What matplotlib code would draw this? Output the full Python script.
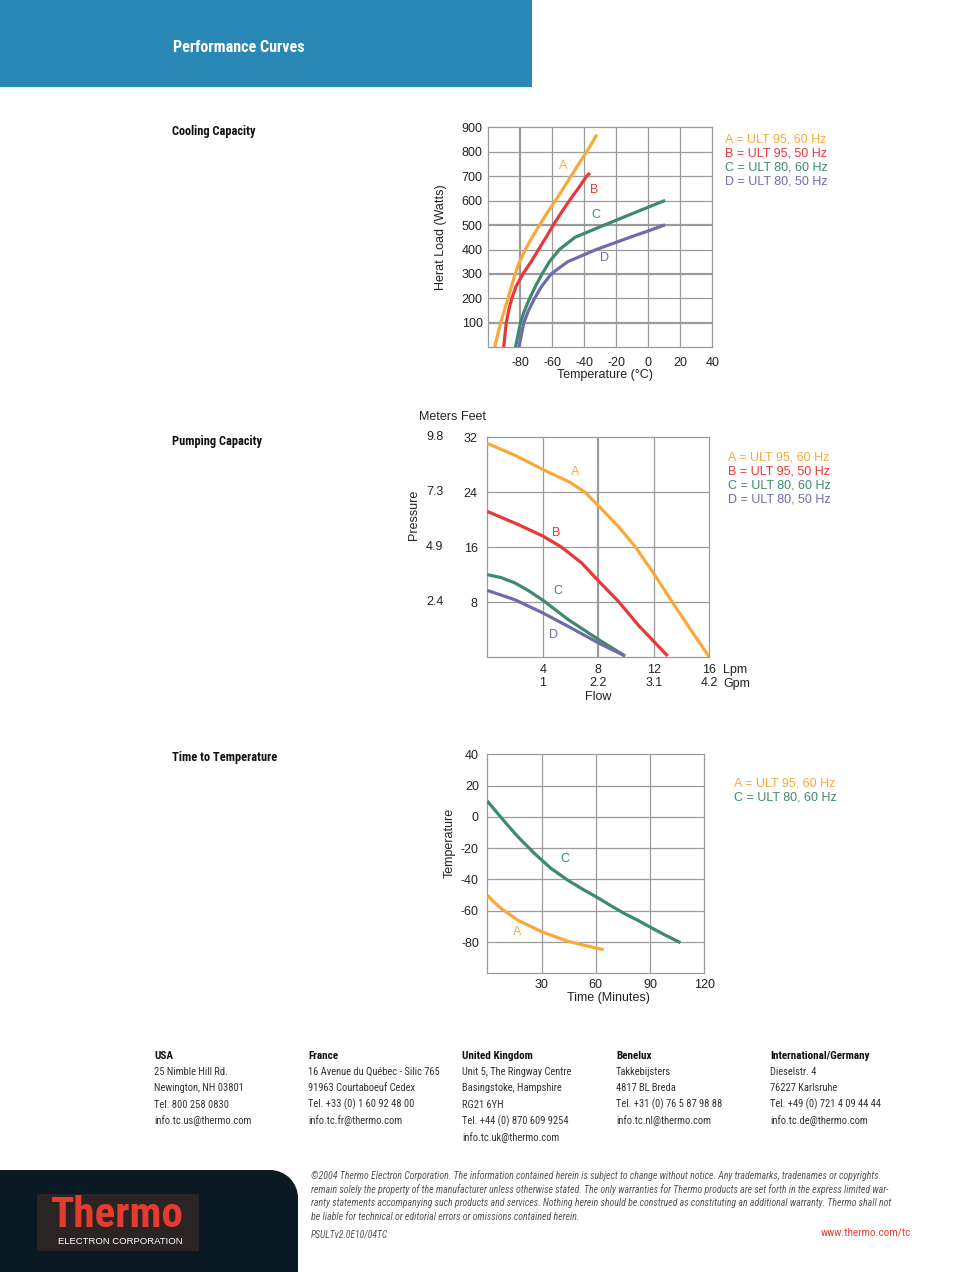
import matplotlib
matplotlib.use("Agg")
import matplotlib.pyplot as plt
from matplotlib import font_manager
from matplotlib.patches import Rectangle, Circle

W, H = 954, 1272

# ---------------- data ----------------
# Cooling capacity: temperature (deg C) vs heat load (W)
cool_a_load = [0, 100, 200, 300, 350, 400, 450, 500, 550, 600, 650, 700, 750, 800, 870]
cool_a_temp = [-96.1, -92.3, -87.7, -83.2, -80.5, -76.9, -72.6, -68.0, -63.2, -58.0, -53.1,
               -48.3, -43.5, -38.5, -32.1]
cool_b_load = [0, 100, 150, 200, 250, 300, 350, 400, 450, 500, 550, 600, 650, 700, 713]
cool_b_temp = [-90.4, -88.8, -87.3, -85.3, -82.6, -78.4, -73.2, -68.6, -63.9, -59.4, -54.5,
               -49.3, -43.8, -38.5, -36.5]
cool_c_load = [0, 100, 150, 200, 250, 300, 350, 400, 450, 500, 550, 601]
cool_c_temp = [-83.0, -79.9, -77.4, -74.2, -70.5, -66.4, -61.8, -55.6, -45.8, -27.5, -8.8, 10.5]
cool_d_load = [0, 100, 150, 200, 250, 300, 325, 350, 375, 400, 425, 450, 475, 501]
cool_d_temp = [-80.9, -77.8, -74.9, -71.1, -66.6, -60.7, -55.6, -50.4, -41.5, -32.5, -22.0,
               -11.5, -0.5, 10.5]

# Pumping capacity: flow (Lpm) vs pressure (feet)
pump_a_flow = [0, 1.98, 4.02, 5.95, 7.04, 8.05, 9.45, 10.65, 12.05, 13.3, 14.75, 16.0]
pump_a_feet = [31.1, 29.4, 27.3, 25.45, 24.0, 21.95, 19.0, 16.1, 12.0, 8.1, 3.7, 0.0]
pump_b_flow = [0, 2.22, 4.02, 5.35, 6.8, 8.05, 9.45, 10.9, 13.0]
pump_b_feet = [21.2, 19.3, 17.6, 16.0, 13.7, 11.0, 8.1, 4.6, 0.15]
pump_c_flow = [0, 1.01, 1.98, 2.94, 4.02, 5.83, 8.05, 9.93]
pump_c_feet = [12.0, 11.55, 10.8, 9.7, 8.25, 5.45, 2.5, 0.15]
pump_d_flow = [0, 1.98, 4.02, 6.07, 8.05, 9.93]
pump_d_feet = [9.7, 8.35, 6.4, 4.2, 2.0, 0.15]

# Time to temperature: minutes vs deg C
time_a_min = [0, 4.05, 7.7, 16.9, 30.4, 44.5, 53.7, 64.4]
time_a_temp = [-50.1, -54.8, -58.6, -66.1, -73.6, -79.5, -82.1, -84.9]
time_c_min = [0, 9.6, 16.9, 26.1, 35.3, 44.5, 53.7, 60.2, 68.5, 75.8, 83.2, 90.0, 97.9, 106.8]
time_c_temp = [10.1, -3.1, -12.7, -23.4, -33.0, -40.5, -46.9, -51.1, -56.9, -61.8, -66.1,
               -70.4, -75.3, -80.4]

cool_xticks = [-80, -60, -40, -20, 0, 20, 40]
cool_yticks = [100, 200, 300, 400, 500, 600, 700, 800, 900]
pump_lpm = [4, 8, 12, 16]
pump_gpm = ["1", "2.2", "3.1", "4.2"]
pump_feet = [8, 16, 24, 32]
pump_meters = ["2.4", "4.9", "7.3", "9.8"]
time_xticks = [30, 60, 90, 120]
time_yticks = [-80, -60, -40, -20, 0, 20, 40]

legend4 = ["A = ULT 95, 60 Hz", "B = ULT 95, 50 Hz", "C = ULT 80, 60 Hz", "D = ULT 80, 50 Hz"]
legend2 = ["A = ULT 95, 60 Hz", "C = ULT 80, 60 Hz"]

offices = [
    ("USA", ["25 Nimble Hill Rd.", "Newington, NH 03801", "Tel. 800 258 0830",
             "info.tc.us@thermo.com"]),
    ("France", ["16 Avenue du Québec - Silic 765", "91963 Courtaboeuf Cedex",
                "Tel. +33 (0) 1 60 92 48 00", "info.tc.fr@thermo.com"]),
    ("United Kingdom", ["Unit 5, The Ringway Centre", "Basingstoke, Hampshire", "RG21 6YH",
                        "Tel. +44 (0) 870 609 9254", "info.tc.uk@thermo.com"]),
    ("Benelux", ["Takkebijsters", "4817 BL Breda", "Tel. +31 (0) 76 5 87 98 88",
                 "info.tc.nl@thermo.com"]),
    ("International/Germany", ["Dieselstr. 4", "76227 Karlsruhe", "Tel. +49 (0) 721 4 09 44 44",
                               "info.tc.de@thermo.com"]),
]

legal = [
    "©2004 Thermo Electron Corporation. The information contained herein is subject to change without notice. Any trademarks, tradenames or copyrights",
    "remain solely the property of the manufacturer unless otherwise stated. The only warranties for Thermo products are set forth in the express limited war-",
    "ranty statements accompanying such products and services. Nothing herein should be construed as constituting an additional warranty. Thermo shall not",
    "be liable for technical or editorial errors or omissions contained herein.",
]

# ---------------- style ----------------
ORANGE = "#f8a93a"
RED = "#e8383a"
GREEN = "#3d8a6c"
PURPLE = "#6f6bad"
GRID = "#9b9b9b"
TXT = "#222222"
colors4 = [ORANGE, RED, GREEN, PURPLE]

plt.rcParams["font.family"] = ["Liberation Sans", "DejaVu Sans"]
plt.rcParams["axes.unicode_minus"] = False

# narrow face for the brochure text, whatever condensed face is around
names = {f.name for f in font_manager.fontManager.ttflist}
NARROW = "DejaVu Sans"
for cand in ["Roboto Condensed", "Liberation Sans Narrow", "Open Sans Condensed",
             "Noto Sans Condensed", "DejaVu Sans Condensed"]:
    if cand in names:
        NARROW = cand
        break
narrow = dict(family=[NARROW, "DejaVu Sans"], stretch="condensed")

fig = plt.figure(figsize=(W / 100, H / 100), dpi=100)
bg = fig.add_axes([0, 0, 1, 1])
bg.set_xlim(0, W)
bg.set_ylim(H, 0)
bg.axis("off")


def px_axes(x0, y0, x1, y1):
    return fig.add_axes([x0 / W, 1 - y1 / H, (x1 - x0) / W, (y1 - y0) / H])


def grid_lines(ax, xs, ys, thick_x=(), thick_y=()):
    for x in xs:
        ax.axvline(x, color=GRID, lw=1.6 if x in thick_x else 0.9, zorder=1)
    for y in ys:
        ax.axhline(y, color=GRID, lw=1.6 if y in thick_y else 0.9, zorder=1)
    for s in ax.spines.values():
        s.set_color(GRID)
        s.set_linewidth(0.9)
    ax.tick_params(length=0, labelsize=9, labelcolor=TXT)


# ---------------- header ----------------
bg.add_patch(Rectangle((0, 0), 532, 87, color="#2a88b6", lw=0))
bg.text(173, 48, "Performance Curves", color="white", fontsize=11.6,
        fontweight="bold", va="center", **narrow)

for y, t in [(132, "Cooling Capacity"), (442, "Pumping Capacity"), (758, "Time to Temperature")]:
    bg.text(172, y, t, color="#111111", fontsize=8.9, fontweight="bold",
            va="center", **narrow)

# ---------------- chart 1: cooling capacity ----------------
ax1 = px_axes(488.3, 127.3, 712.3, 347.3)
ax1.set_xlim(-100, 40)
ax1.set_ylim(0, 900)
grid_lines(ax1, [-80, -60, -40, -20, 0, 20], cool_yticks[:-1], thick_x=[-80], thick_y=[100, 300, 500])
for t, l, c in zip([cool_a_temp, cool_b_temp, cool_c_temp, cool_d_temp],
                   [cool_a_load, cool_b_load, cool_c_load, cool_d_load], colors4):
    ax1.plot(t, l, color=c, lw=2.3, zorder=3, solid_capstyle="butt", solid_joinstyle="round")
ax1.set_xticks(cool_xticks)
ax1.set_yticks(cool_yticks)
ax1.tick_params(axis="x", pad=7)
ax1.tick_params(axis="y", pad=4)
for (x, y), s, c in zip([(-53.3, 740), (-34, 645), (-32.9, 540), (-27.1, 367)], "ABCD", colors4):
    ax1.text(x, y, s, color=c, fontsize=9, ha="center", va="center")
bg.text(441, 237, "Herat Load (Watts)", rotation=90, fontsize=9, color=TXT, ha="center", va="center")
bg.text(605, 375, "Temperature (°C)", fontsize=9, color=TXT, ha="center", va="center")
for i, (s, c) in enumerate(zip(legend4, colors4)):
    bg.text(725, 140 + 14 * i, s, color=c, fontsize=9, va="center")

# ---------------- chart 2: pumping capacity ----------------
ax2 = px_axes(487.3, 437.3, 709.3, 657.0)
ax2.set_xlim(0, 16)
ax2.set_ylim(0, 32)
grid_lines(ax2, [4, 8, 12], [8, 16, 24], thick_x=[8])
for f, p, c in zip([pump_a_flow, pump_b_flow, pump_c_flow, pump_d_flow],
                   [pump_a_feet, pump_b_feet, pump_c_feet, pump_d_feet], colors4):
    ax2.plot(f, p, color=c, lw=2.3, zorder=3, solid_capstyle="butt", solid_joinstyle="round")
ax2.set_xticks(pump_lpm)
ax2.set_xticklabels([f"{l}\n{g}" for l, g in zip(pump_lpm, pump_gpm)], linespacing=1.15)
ax2.set_yticks(pump_feet)
ax2.tick_params(axis="x", pad=5)
ax2.tick_params(axis="y", pad=7)
for y, m in zip(pump_feet, pump_meters):
    ax2.text(-0.198, y, m, transform=ax2.get_yaxis_transform(), fontsize=9, color=TXT,
             ha="right", va="center")
for (x, y), s, c in zip([(6.3, 26.95), (5.0, 18.06), (5.06, 9.57), (4.75, 3.25)], "ABCD", colors4):
    ax2.text(x, y, s, color=c, fontsize=9, ha="center", va="center")
bg.text(419, 417, "Meters", fontsize=9, color=TXT, va="center")
bg.text(461, 417, "Feet", fontsize=9, color=TXT, va="center")
bg.text(414, 515, "Pressure", rotation=90, fontsize=9, color=TXT, ha="center", va="center")
bg.text(723, 670, "Lpm", fontsize=9, color=TXT, va="center")
bg.text(723, 683.5, "Gpm", fontsize=9, color=TXT, va="center")
bg.text(598, 697, "Flow", fontsize=9, color=TXT, ha="center", va="center")
for i, (s, c) in enumerate(zip(legend4, colors4)):
    bg.text(728, 457 + 14 * i, s, color=c, fontsize=9, va="center")

# ---------------- chart 3: time to temperature ----------------
ax3 = px_axes(487.3, 754.3, 704.3, 973.3)
ax3.set_xlim(0, 120)
ax3.set_ylim(-100, 40)
grid_lines(ax3, [30, 60, 90], [-80, -60, -40, -20, 0, 20])
ax3.plot(time_a_min, time_a_temp, color=ORANGE, lw=2.3, zorder=3, solid_capstyle="butt",
         solid_joinstyle="round")
ax3.plot(time_c_min, time_c_temp, color=GREEN, lw=2.3, zorder=3, solid_capstyle="butt",
         solid_joinstyle="round")
ax3.set_xticks(time_xticks)
ax3.set_yticks(time_yticks)
ax3.tick_params(axis="x", pad=4)
ax3.tick_params(axis="y", pad=6)
ax3.text(42.7, -27, "C", color=GREEN, fontsize=9, ha="center", va="center")
ax3.text(16.4, -73.6, "A", color=ORANGE, fontsize=9, ha="center", va="center")
bg.text(450, 843, "Temperature", rotation=90, fontsize=9, color=TXT, ha="center", va="center")
bg.text(608, 998, "Time (Minutes)", fontsize=9, color=TXT, ha="center", va="center")
for i, (s, c) in enumerate(zip(legend2, [ORANGE, GREEN])):
    bg.text(734, 784 + 13.5 * i, s, color=c, fontsize=9, va="center")

# ---------------- footer: offices ----------------
for i, (head, lines) in enumerate(offices):
    x = 154 + 154 * i
    bg.text(x, 1056, head, fontsize=8.0, fontweight="bold", color="#111111",
            va="center", **narrow)
    for j, line in enumerate(lines):
        bg.text(x, 1072 + 16.3 * j, line, fontsize=7.6, color="#333333",
                va="center", **narrow)

# ---------------- footer: dark panel + logo ----------------
PANEL = "#0b1a22"
bg.add_patch(Rectangle((0, 1170), 270, 102, color=PANEL, lw=0))
bg.add_patch(Rectangle((0, 1198), 298, 74, color=PANEL, lw=0))
bg.add_patch(Circle((270, 1198), 28, color=PANEL, lw=0))
bg.add_patch(Rectangle((37, 1194), 162, 57, color="#2a2424", lw=0))
bg.text(117, 1227, "Thermo", color="#e63c2f", fontsize=31, fontweight="bold",
        ha="center", va="baseline", **narrow)
bg.text(120, 1242, "ELECTRON CORPORATION", color="white", fontsize=6.8,
        ha="center", va="center")

for j, line in enumerate(legal):
    bg.text(311, 1176 + 13.7 * j, line, fontsize=7.1, style="italic", color="#555555",
            va="center", **narrow)
bg.text(311, 1235, "PSULTv2.0E10/04TC", fontsize=6.9, style="italic", color="#555555",
        va="center", **narrow)
bg.text(911, 1232, "www.thermo.com/tc", fontsize=8.0, color="#e8403a", ha="right",
        va="center", **narrow)

fig.savefig("out.png", dpi=100)
